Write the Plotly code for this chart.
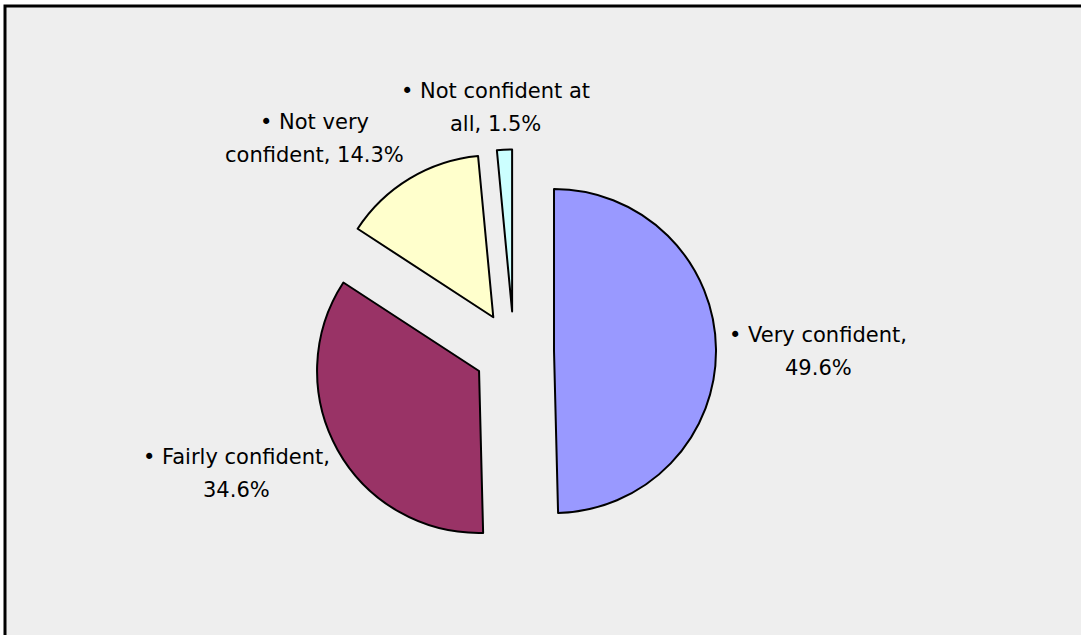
import plotly.graph_objects as go

# Survey answers and their shares (%)
categories = ["Very confident", "Fairly confident", "Not very confident", "Not confident at all"]
shares = [49.6, 34.6, 14.3, 1.5]
slice_colors = ["#9999FF", "#993366", "#FFFFCC", "#CCFFFF"]

# How each label wraps onto two lines ("|" marks the break)
label_wraps = ["Very confident,|", "Fairly confident,|", "Not very|confident,", "Not confident at|all,"]

W, H = 1081, 635

# Pie placement in pixels
cx, cy = 514, 351.5
radius = 162
pull = 0.247
half = radius * (1 + pull)

# Label centres in pixels (x, y of first line)
label_pos = [(818, 335), (236, 457), (314, 122), (495, 91)]
line_gap = 33
font_family = "DejaVu Sans"
font_size = 21


def px(x):
    return x / W


def py(y):
    return 1 - y / H


fig = go.Figure(
    go.Pie(
        labels=categories,
        values=shares,
        sort=False,
        direction="clockwise",
        rotation=0,
        pull=[pull] * len(shares),
        marker=dict(colors=slice_colors, line=dict(color="black", width=2)),
        textinfo="none",
        hoverinfo="label+percent",
        showlegend=False,
        domain=dict(
            x=[px(cx - half), px(cx + half)],
            y=[py(cy + half), py(cy - half)],
        ),
    )
)

annotations = []
for wrap, value, (lx, ly) in zip(label_wraps, shares, label_pos):
    first, second = wrap.split("|")
    lines = ["• " + first, (second + " " + f"{value}%").strip()]
    for i, line in enumerate(lines):
        annotations.append(
            dict(
                text=line,
                x=px(lx),
                y=py(ly + i * line_gap),
                xref="paper",
                yref="paper",
                xanchor="center",
                yanchor="middle",
                showarrow=False,
                font=dict(family=font_family, size=font_size, color="black"),
            )
        )

fig.update_layout(
    width=W,
    height=H,
    margin=dict(l=0, r=0, t=0, b=0),
    paper_bgcolor="white",
    plot_bgcolor="white",
    annotations=annotations,
    shapes=[
        dict(
            type="rect",
            xref="paper",
            yref="paper",
            x0=px(5),
            x1=1.02,
            y0=-0.02,
            y1=py(6),
            fillcolor="#EEEEEE",
            line=dict(color="black", width=3),
            layer="below",
        )
    ],
)

fig.write_html("out.html")
